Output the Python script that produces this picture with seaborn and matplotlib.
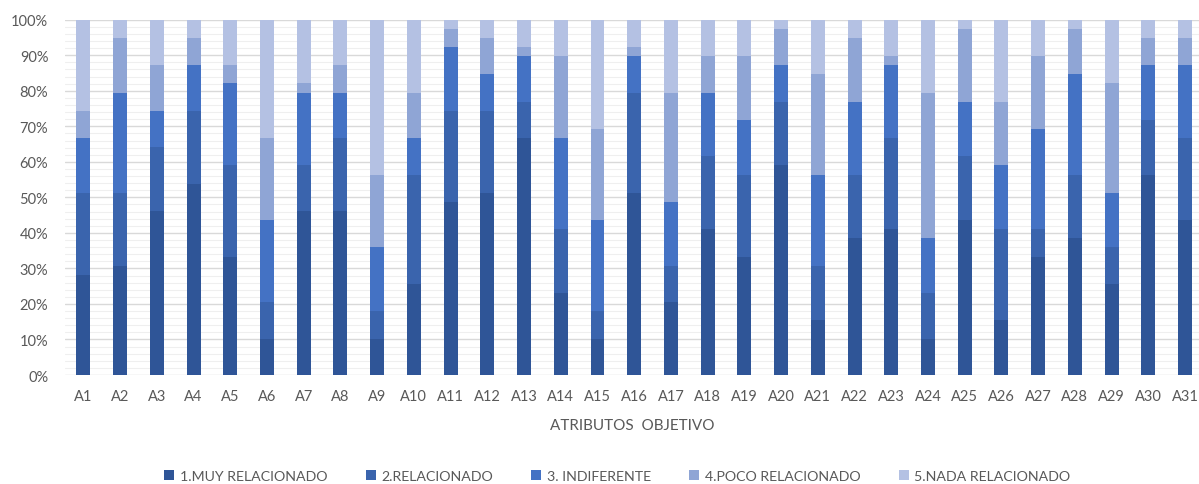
import numpy as np
import pandas as pd
import matplotlib
matplotlib.use("Agg")
import matplotlib.pyplot as plt
from matplotlib.patches import Patch
from matplotlib.ticker import MultipleLocator, PercentFormatter
import seaborn as sns

# ---- data (response counts per attribute, out of 39 respondents) ----
atributos = [f"A{i}" for i in range(1, 32)]
series_names = ["1.MUY RELACIONADO", "2.RELACIONADO", "3. INDIFERENTE",
                "4.POCO RELACIONADO", "5.NADA RELACIONADO"]
muy_relacionado = [11, 12, 18, 21, 13, 4, 18, 18, 4, 10, 19, 20, 26, 9, 4, 20,
                   8, 16, 13, 23, 6, 15, 16, 4, 17, 6, 13, 15, 10, 22, 17]
relacionado = [9, 8, 7, 8, 10, 4, 5, 8, 3, 12, 10, 9, 4, 7, 3, 11,
               4, 8, 9, 7, 6, 7, 10, 5, 7, 10, 3, 7, 4, 6, 9]
indiferente = [6, 11, 4, 5, 9, 9, 8, 5, 7, 4, 7, 4, 5, 10, 10, 4,
               7, 7, 6, 4, 10, 8, 8, 6, 6, 7, 11, 11, 6, 6, 8]
poco_relacionado = [3, 6, 5, 3, 2, 9, 1, 3, 8, 5, 2, 4, 1, 9, 10, 1,
                    12, 4, 7, 4, 11, 7, 1, 16, 8, 7, 8, 5, 12, 3, 3]
nada_relacionado = [10, 2, 5, 2, 5, 13, 7, 5, 17, 8, 1, 2, 3, 4, 12, 3,
                    8, 4, 4, 1, 6, 2, 4, 8, 1, 9, 4, 1, 7, 2, 2]

colors = ["#2F5597", "#3A64AD", "#4472C4", "#8FA5D5", "#B4C1E3"]

counts = np.array([muy_relacionado, relacionado, indiferente,
                   poco_relacionado, nada_relacionado], dtype=float)
pct = counts / counts.sum(axis=0) * 100
cum = np.cumsum(pct, axis=0)

text_color = "#595959"
font = ["Lato", "DejaVu Sans"]

sns.set_theme(style="white")
plt.rcParams["font.family"] = font

fig = plt.figure(figsize=(11.99, 4.85), dpi=100)
ax = fig.add_axes([65 / 1199, 1 - 376 / 485, 1 - 65 / 1199, (376 - 20.7) / 485])

# draw stacked bars: largest cumulative first, then overlay lower ones
for k in range(4, -1, -1):
    df = pd.DataFrame({"atributo": atributos, "valor": cum[k]})
    sns.barplot(data=df, x="atributo", y="valor", color=colors[k],
                saturation=1, width=0.38, errorbar=None, ax=ax, zorder=3,
                linewidth=0)

ax.set_ylim(0, 100)
ax.set_xlim(-0.5, 30.38)
ax.yaxis.set_major_locator(MultipleLocator(10))
ax.yaxis.set_minor_locator(MultipleLocator(2))
ax.yaxis.set_major_formatter(PercentFormatter(decimals=0))
ax.grid(axis="y", which="major", color="#D9D9D9", linewidth=1.0, zorder=0)
ax.grid(axis="y", which="minor", color="#EFEFEF", linewidth=0.8, zorder=0)
ax.grid(axis="x", visible=False)
for s in ax.spines.values():
    s.set_visible(False)
ax.tick_params(axis="both", which="both", length=0, colors=text_color,
               labelsize=10.5)
ax.tick_params(axis="x", pad=10)
ax.tick_params(axis="y", pad=12)
ax.set_ylabel("")
ax.set_xlabel("ATRIBUTOS  OBJETIVO", color=text_color, fontsize=11, labelpad=11)

handles = [Patch(facecolor=c, edgecolor="none") for c in colors]
fig.legend(handles, series_names, loc="center", bbox_to_anchor=(0.515, 0.017),
           ncol=5, frameon=False, fontsize=10.2, handlelength=0.7,
           handleheight=0.7, handletextpad=0.4, columnspacing=2.7,
           labelcolor=text_color)

fig.savefig("out.png", dpi=100)
